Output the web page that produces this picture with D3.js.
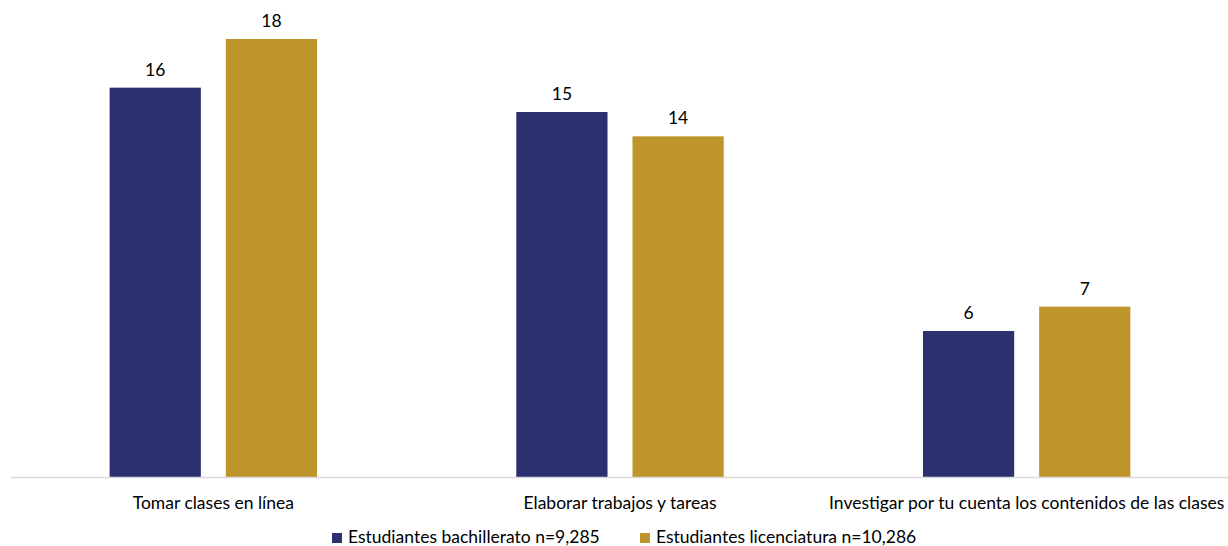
<!DOCTYPE html>
<html>
<head>
<meta charset="utf-8">
<script src="https://cdn.jsdelivr.net/npm/d3@7"></script>
<style>
  html, body { margin: 0; padding: 0; background: #fff; }
  svg { display: block; font-family: Lato, "Open Sans", sans-serif; }
</style>
</head>
<body>
<svg id="chart" width="1228" height="546"></svg>
<script>
const categories = [
  "Tomar clases en línea",
  "Elaborar trabajos y tareas",
  "Investigar por tu cuenta los contenidos de las clases"
];
const seriesNames = [
  "Estudiantes bachillerato n=9,285",
  "Estudiantes licenciatura n=10,286"
];
const bachillerato = [16, 15, 6];
const licenciatura = [18, 14, 7];
const colors = ["#2c2f70", "#bd952a"];

const svg = d3.select("#chart");
const baseY = 477, topY = 39;
const fs = 17.5;

const x0 = d3.scaleBand().domain(categories).range([10, 1230])
  .paddingInner(0.49).paddingOuter(0.245);
const x1 = d3.scaleBand().domain(seriesNames).range([0, x0.bandwidth()])
  .paddingInner(0.215);
const y = d3.scaleLinear().domain([0, 18]).range([baseY, topY]);

const rows = categories.map((c, i) => ({
  cat: c,
  vals: [bachillerato[i], licenciatura[i]]
}));

const g = svg.append("g");
const grp = g.selectAll("g.grp").data(rows).join("g")
  .attr("transform", d => `translate(${x0(d.cat)},0)`);

grp.selectAll("rect").data(d => d.vals.map((v, k) => ({ v, k })))
  .join("rect")
  .attr("x", d => x1(seriesNames[d.k]))
  .attr("width", x1.bandwidth())
  .attr("y", d => y(d.v))
  .attr("height", d => y(0) - y(d.v))
  .attr("fill", d => colors[d.k]);

grp.selectAll("text.val").data(d => d.vals.map((v, k) => ({ v, k })))
  .join("text")
  .attr("class", "val")
  .attr("x", d => x1(seriesNames[d.k]) + x1.bandwidth() / 2)
  .attr("y", d => y(d.v) - 12)
  .attr("text-anchor", "middle")
  .attr("font-size", fs)
  .attr("fill", "#000")
  .text(d => d.v);

// baseline axis
const axis = d3.axisBottom(x0).tickSize(0).tickPadding(19.5);
const ax = svg.append("g").attr("transform", `translate(0,${baseY})`).call(axis);
ax.select(".domain").attr("stroke", "#d9d9d9").attr("stroke-width", 1.5);
ax.selectAll("text").attr("font-size", fs).attr("fill", "#000")
  .attr("font-family", "Lato, 'Open Sans', sans-serif");

// legend
const legendX = [332, 640];
const lg = svg.append("g").selectAll("g").data(seriesNames).join("g")
  .attr("transform", (d, i) => `translate(${legendX[i]},543)`);
lg.append("rect").attr("x", 0).attr("y", -10).attr("width", 10).attr("height", 10)
  .attr("fill", (d, i) => colors[i]);
lg.append("text").attr("x", 16).attr("y", 0).attr("font-size", fs)
  .attr("fill", "#000").text(d => d);
</script>
</body>
</html>
